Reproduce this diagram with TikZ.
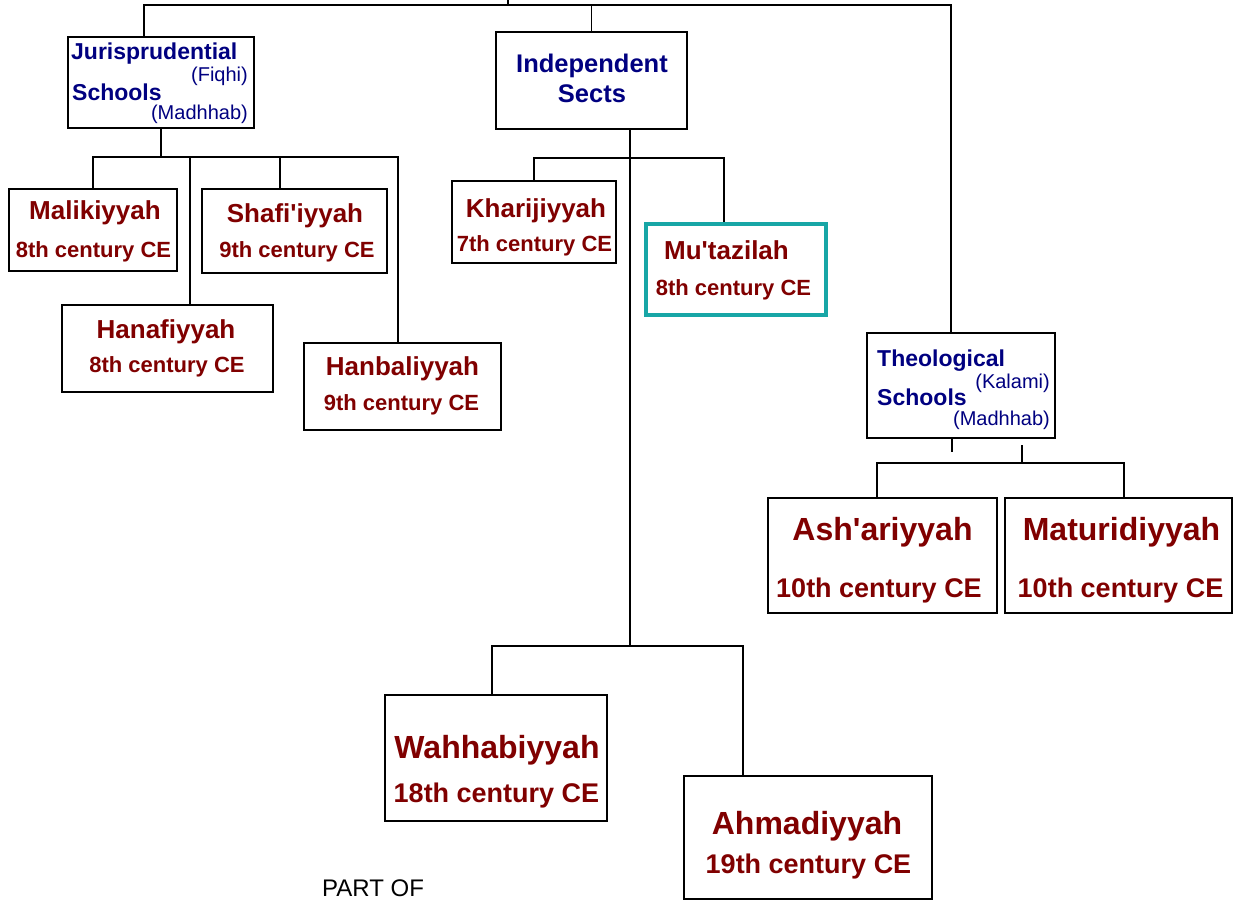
\documentclass[tikz,border=0pt]{standalone}
\usepackage{fontspec}
\setmainfont{Liberation Sans}
\definecolor{sectred}{RGB}{128,0,0}
\definecolor{headblue}{RGB}{0,0,128}
\definecolor{tealframe}{RGB}{24,166,166}

\begin{document}
\begin{tikzpicture}[x=1pt, y=-1pt,
        link/.style={line width=1.5pt},
        sectbox/.style={draw, line width=1.5pt, inner sep=0pt},
        headword/.style={inner sep=0pt, text=headblue, font=\bfseries\fontsize{23}{23}\selectfont},
        subword/.style={inner sep=0pt, text=headblue, font=\fontsize{20}{20}\selectfont},
        sectname/.style={anchor=base, inner sep=0pt, text=sectred, font=\bfseries\fontsize{26}{26}\selectfont},
        sectdate/.style={anchor=base, inner sep=0pt, text=sectred, font=\bfseries\fontsize{22}{22}\selectfont},
        bigname/.style={sectname, font=\bfseries\fontsize{32}{32}\selectfont},
        bigdate/.style={sectdate, font=\bfseries\fontsize{27}{27}\selectfont}]

    \useasboundingbox (0,0) rectangle (1239,901);

    % the three branches
    \node[sectbox, minimum width=186, minimum height=91] (juris) at (161,82.5) {};
    \node[headword, anchor=base west] (juris-a) at (71,60) {Jurisprudential};
    \node[subword, anchor=base east] (juris-b) at (248,82) {(Fiqhi)};
    \node[headword, anchor=base west] (juris-c) at (72,101) {Schools};
    \node[subword, anchor=base east] (juris-d) at (248,120) {(Madhhab)};

    \node[sectbox, minimum width=191, minimum height=97] (indep) at (591.5,80.5) {};
    \node[headword, anchor=base, font=\bfseries\fontsize{25.5}{25.5}\selectfont] (indep-a) at (592,73) {Independent};
    \node[headword, anchor=base, font=\bfseries\fontsize{25.5}{25.5}\selectfont] (indep-b) at (592,103) {Sects};

    \node[sectbox, minimum width=188, minimum height=105] (theo) at (961,385.5) {};
    \node[headword, anchor=base west] (theo-a) at (877,366) {Theological};
    \node[subword, anchor=base east] (theo-b) at (1050,388) {(Kalami)};
    \node[headword, anchor=base west] (theo-c) at (877,405) {Schools};
    \node[subword, anchor=base east] (theo-d) at (1050,425) {(Madhhab)};

    % jurisprudential schools
    \node[sectbox, minimum width=168, minimum height=82] (maliki) at (93,230) {};
    \node[sectname] (maliki-n) at (95,220) {Malikiyyah};
    \node[sectdate] (maliki-d) at (93.5,258) {8th century CE};

    \node[sectbox, minimum width=185, minimum height=84] (shafi) at (294.5,231) {};
    \node[sectname] (shafi-n) at (295,223) {Shafi\textquotesingle iyyah};
    \node[sectdate] (shafi-d) at (297,258) {9th century CE};

    \node[sectbox, minimum width=211, minimum height=87] (hanafi) at (167.5,348.5) {};
    \node[sectname] (hanafi-n) at (166,338) {Hanafiyyah};
    \node[sectdate] (hanafi-d) at (167,372) {8th century CE};

    \node[sectbox, minimum width=197, minimum height=87] (hanbali) at (402.5,386.5) {};
    \node[sectname] (hanbali-n) at (402.5,375) {Hanbaliyyah};
    \node[sectdate] (hanbali-d) at (401.5,410) {9th century CE};

    % independent sects
    \node[sectbox, minimum width=164, minimum height=82] (khariji) at (534,222) {};
    \node[sectname] (khariji-n) at (536,218) {Kharijiyyah};
    \node[sectdate] (khariji-d) at (534.5,252) {7th century CE};

    \node[sectbox, draw=tealframe, line width=4.5pt, minimum width=180, minimum height=91] (mutaz) at (736,269.5) {};
    \node[sectname] (mutaz-n) at (726.5,260) {Mu\textquotesingle tazilah};
    \node[sectdate] (mutaz-d) at (733.5,295) {8th century CE};

    \node[sectbox, minimum width=222, minimum height=126] (wahhabi) at (496,758) {};
    \node[bigname] (wahhabi-n) at (497,758) {Wahhabiyyah};
    \node[bigdate] (wahhabi-d) at (496.5,802) {18th century CE};

    \node[sectbox, minimum width=248, minimum height=123] (ahmadi) at (808,837.5) {};
    \node[bigname] (ahmadi-n) at (807,834) {Ahmadiyyah};
    \node[bigdate] (ahmadi-d) at (808.5,873) {19th century CE};

    % theological schools
    \node[sectbox, minimum width=229, minimum height=115] (ashari) at (882.5,555.5) {};
    \node[bigname] (ashari-n) at (882.5,540) {Ash\textquotesingle ariyyah};
    \node[bigdate] (ashari-d) at (879,597) {10th century CE};

    \node[sectbox, minimum width=227, minimum height=115] (maturi) at (1118.5,555.5) {};
    \node[bigname] (maturi-n) at (1121.5,540) {Maturidiyyah};
    \node[bigdate] (maturi-d) at (1120.5,597) {10th century CE};

    \node[anchor=base west, inner sep=0pt, font=\fontsize{24}{24}\selectfont] (partof) at (322,896) {PART OF};

    % connectors
    \coordinate (root) at (508,0);
    \coordinate (rootbar) at (508,5);
    \draw[link] (root) -- (rootbar);
    \draw[link] ([xshift=-17pt]juris.north) |- (rootbar);
    \draw[link] (indep.north) |- (rootbar);
    \draw[link] ([xshift=-10pt]theo.north) |- (rootbar);

    \coordinate (jbar) at (161,157);
    \draw[link] (juris.south) -- (jbar);
    \draw[link] (maliki.north) |- (jbar);
    \draw[link] ([xshift=22.5pt]hanafi.north) |- (jbar);
    \draw[link] ([xshift=-14.5pt]shafi.north) |- (jbar);
    \draw[link] ([xshift=-4.5pt]hanbali.north) |- (jbar);

    \coordinate (ibar) at (630,158);
    \coordinate (wbar) at (630,646);
    \draw[link] ([xshift=38.5pt]indep.south) -- (wbar);
    \draw[link] (khariji.north) |- (ibar);
    \draw[link] ([xshift=-12pt]mutaz.north) |- (ibar);
    \draw[link] ([xshift=-4pt]wahhabi.north) |- (wbar);
    \draw[link] ([xshift=-65pt]ahmadi.north) |- (wbar);

    \coordinate (tstub) at (952,452);
    \coordinate (tjoin) at (1022,445);
    \coordinate (tbar) at (1022,463);
    \draw[link] (tstub |- theo.south) -- (tstub);
    \draw[link] (tjoin) -- (tbar);
    \draw[link] ([xshift=-5.5pt]ashari.north) |- (tbar);
    \draw[link] ([xshift=5.5pt]maturi.north) |- (tbar);
\end{tikzpicture}
\end{document}
